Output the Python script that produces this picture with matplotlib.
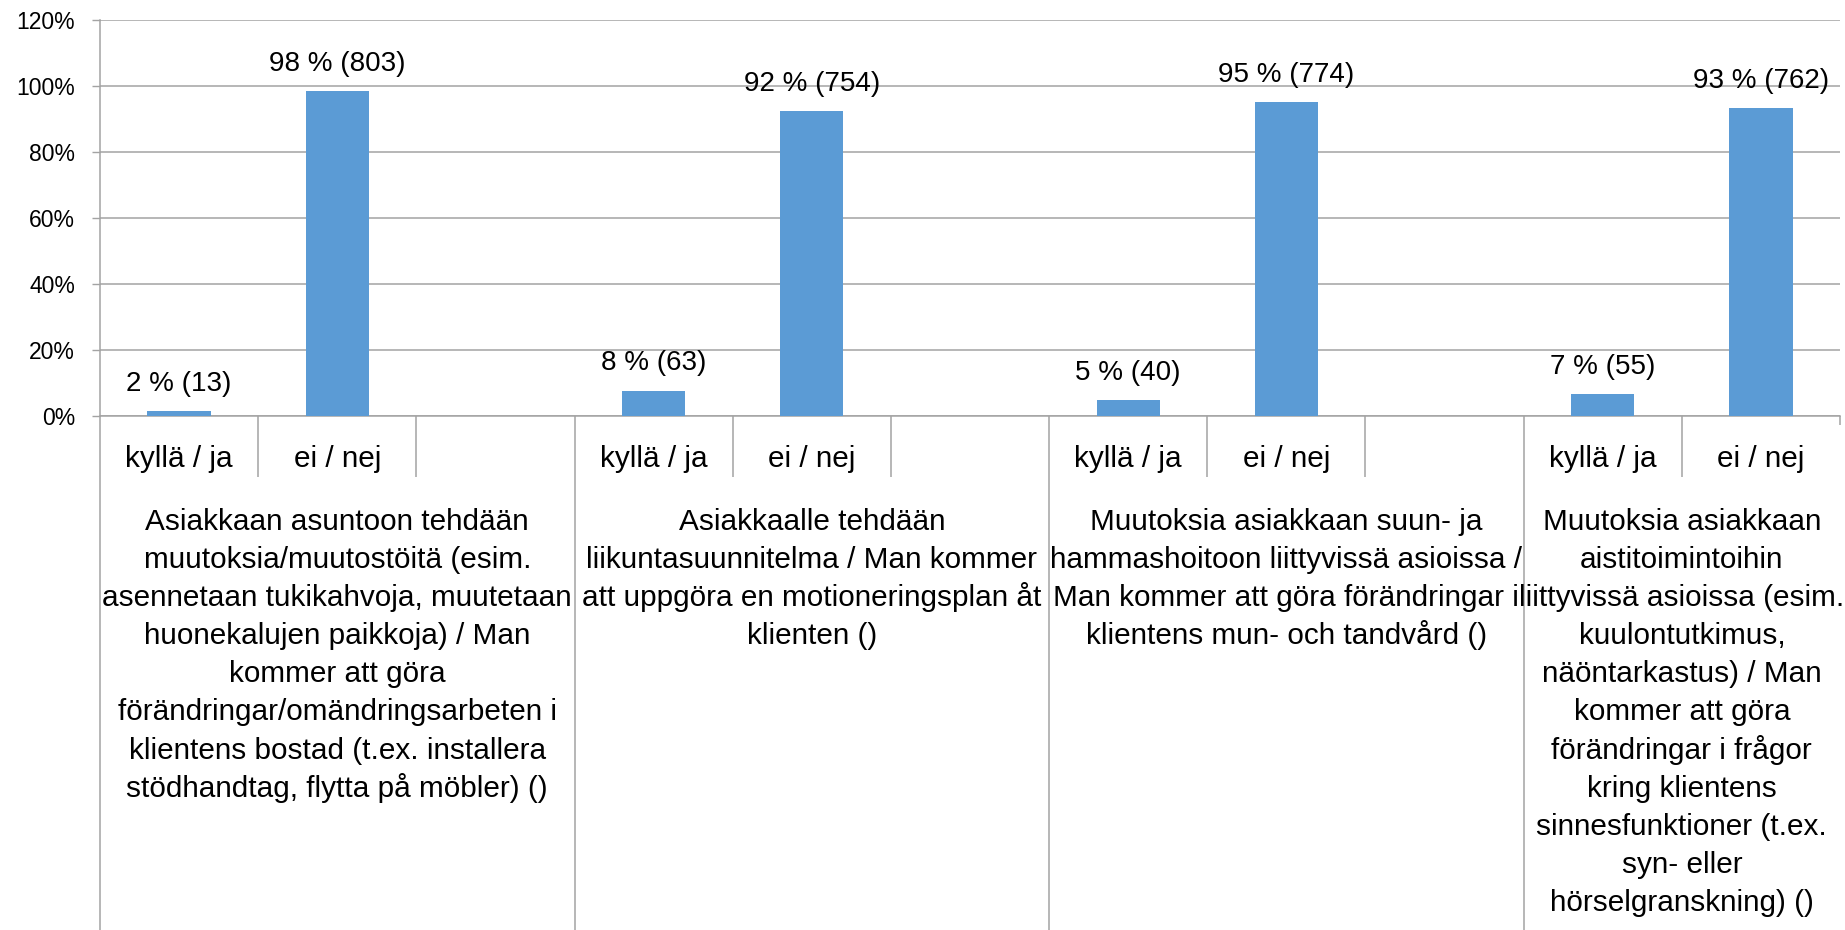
import matplotlib
matplotlib.use('Agg')
import matplotlib.pyplot as plt
import numpy as np

# Survey answers per measure: share (%) and number of respondents
answers = ['kyllä / ja', 'ei / nej']
yes_pct = [1.6, 7.7, 4.9, 6.7]
no_pct = [98.4, 92.3, 95.1, 93.3]
yes_n = [13, 63, 40, 55]
no_n = [803, 754, 774, 762]

measures = [
    ['Asiakkaan asuntoon tehdään',
     'muutoksia/muutostöitä (esim.',
     'asennetaan tukikahvoja, muutetaan',
     'huonekalujen paikkoja) / Man',
     'kommer att göra',
     'förändringar/omändringsarbeten i',
     'klientens bostad (t.ex. installera',
     'stödhandtag, flytta på möbler) ()'],
    ['Asiakkaalle tehdään',
     'liikuntasuunnitelma / Man kommer',
     'att uppgöra en motioneringsplan åt',
     'klienten ()'],
    ['Muutoksia asiakkaan suun- ja',
     'hammashoitoon liittyvissä asioissa /',
     'Man kommer att göra förändringar i',
     'klientens mun- och tandvård ()'],
    ['Muutoksia asiakkaan',
     'aistitoimintoihin',
     'liittyvissä asioissa (esim.',
     'kuulontutkimus,',
     'näöntarkastus) / Man',
     'kommer att göra',
     'förändringar i frågor',
     'kring klientens',
     'sinnesfunktioner (t.ex.',
     'syn- eller',
     'hörselgranskning) ()'],
]

yticks = [0, 20, 40, 60, 80, 100, 120]

plt.rcParams['font.family'] = ['Liberation Sans', 'DejaVu Sans']

BAR = '#5B9BD5'
GRID = '#A3A3A3'

# each measure takes three slots (yes, no, blank); the last one has no blank slot
n_slots = 3 * len(measures) - 1

fig = plt.figure(figsize=(18.45, 9.3), dpi=100)
ax = fig.add_axes([0.0542, 0.5527, 0.9431, 0.4258])

xs, heights, counts = [], [], []
for g in range(len(measures)):
    xs += [3 * g, 3 * g + 1]
    heights += [yes_pct[g], no_pct[g]]
    counts += [yes_n[g], no_n[g]]

ax.bar(xs, heights, width=0.4, color=BAR, zorder=3)

for x, h, n in zip(xs, heights, counts):
    ax.annotate(f'{h:.0f} % ({n})', (x, h), xytext=(0, 14.5),
                textcoords='offset points', ha='center', va='baseline',
                fontsize=20, color='black')

ax.set_xlim(-0.5, n_slots - 0.5)
ax.set_ylim(0, 120)
ax.set_yticks(yticks)
ax.set_yticklabels([f'{t}%' for t in yticks])
ax.set_xticks([])
ax.tick_params(axis='y', length=6, width=1, color=GRID, pad=12, labelsize=16.5)
ax.grid(axis='y', color=GRID, linewidth=1.1, zorder=0)
for side in ['top', 'right']:
    ax.spines[side].set_visible(False)
for side in ['left', 'bottom']:
    ax.spines[side].set_color(GRID)
    ax.spines[side].set_linewidth(1.1)

# category axis: small answer labels, then measure descriptions below
trans = ax.get_xaxis_transform()
px = 1 / 396.0  # one pixel in axes-fraction units

for x in xs:
    ax.text(x, -50.7 * px, answers[x % 3], transform=trans, ha='center',
            va='baseline', fontsize=21.4, clip_on=False)

group_edges = [3 * g - 0.5 for g in range(len(measures))]
slot_edges = [s + 0.5 for s in range(n_slots - 1) if (s + 0.5) not in group_edges]
ax.vlines(group_edges, -514 * px, 0, transform=trans, color=GRID, linewidth=1.1, clip_on=False)
ax.vlines(slot_edges, -60.7 * px, 0, transform=trans, color=GRID, linewidth=1.1, clip_on=False)
ax.vlines([n_slots - 0.5], -9 * px, 0, transform=trans, color=GRID, linewidth=1.1, clip_on=False)

for g, lines in enumerate(measures):
    first = 3 * g
    last = min(3 * g + 2, n_slots - 1)
    cx = (first + last) / 2
    for i, line in enumerate(lines):
        ax.text(cx, (-114 - 38.1 * i) * px, line, transform=trans, ha='center',
                va='baseline', fontsize=21.4, clip_on=False)

fig.savefig('out.png', dpi=100, facecolor='white')
